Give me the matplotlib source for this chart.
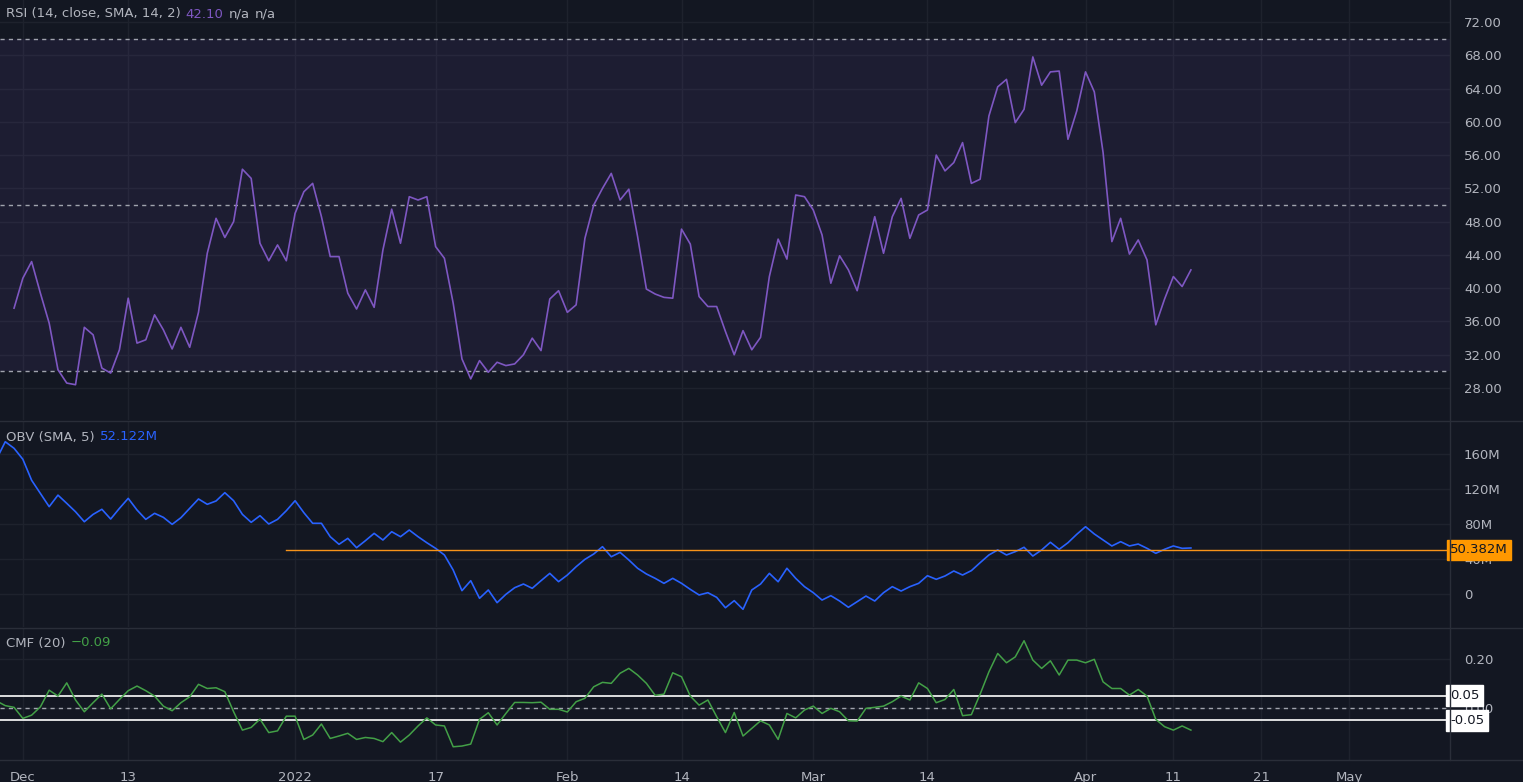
import matplotlib
matplotlib.use("Agg")
import matplotlib.pyplot as plt
import matplotlib.dates as mdates
import pandas as pd
import numpy as np

rsi = [37.6,41.2,43.2,39.4,35.8,30.2,28.6,28.4,35.3,34.4,30.4,29.8,32.6,38.8,33.4,33.8,36.8,35.0,32.7,35.3,
       32.9,37.1,44.2,48.4,46.1,48.0,54.3,53.2,45.4,43.3,45.2,43.3,49.0,51.6,52.6,48.6,43.8,43.8,39.4,37.5,
       39.8,37.7,44.6,49.5,45.4,51.0,50.6,51.0,45.0,43.6,38.2,31.5,29.1,31.3,29.9,31.1,30.7,30.9,32.0,34.0,
       32.5,38.7,39.7,37.1,38.0,46.0,50.0,
       52.0,53.8,50.6,51.9,46.2,39.9,39.3,38.9,38.8,47.1,45.3,39.0,37.8,37.8,34.8,32.0,34.9,32.6,34.1,41.4,
       45.9,43.5,51.2,51.0,49.4,46.4,40.6,43.9,42.2,39.7,44.2,48.6,44.2,48.6,50.8,46.0,48.8,49.4,56.0,54.1,
       55.1,57.5,52.6,53.1,60.7,64.2,65.1,59.9,61.5,67.8,64.4,66.0,66.1,57.9,61.3,66.0,63.6,56.3,45.6,48.4,
       44.1,45.8,43.4,35.6,38.7,41.4,40.2,42.2]

obv = [154,174,166.5,154,130,115,99.8,113,103.6,94,82.6,91,96.8,85.7,97.9,109.3,96,85.3,92.2,87.6,
       79.6,87.2,97.9,108.6,102.5,106.3,115.8,106.6,91,81.9,89.5,80,85.3,95.2,106.6,92.9,80.8,80.8,65.5,56.8,
       63.6,52.9,60.9,69.3,61.7,71.2,65.5,73.1,65.5,58.6,52.2,44.6,27.4,3.8,15.2,-4.9,4.6,-9.9,-0.4,7.2,
       11.4,6.5,15.2,23.6,14.1,21.7,31.2,39.6,45.7,54.1,42.6,47.6,38.9,29.4,22.9,17.9,12.2,17.9,12.2,5.3,
       -1.1,1.5,-3.8,-15.7,-7.6,-17.5,
       4.6,11.4,23.6,14,29.4,17.9,8.4,1.5,-6.9,-1.9,-8,-15.2,-8.8,-2.3,-8,1.5,8.4,3.4,8.4,12.2,
       20.9,16.8,20.6,26.3,21.7,26.7,35.8,44.6,50.3,44.6,48.4,53.4,43.4,50.3,59.1,51.1,58.6,68.2,76.9,68.6,
       61.7,54.9,59.8,54.9,57.1,52.2,46.5,51.1,54.9,52.2,52.6]

cmf = [-0.069,0.003,0.029,0.01,0.003,-0.042,-0.029,0.005,0.073,0.049,0.103,0.033,-0.015,0.022,0.057,-0.003,0.035,0.071,0.09,0.071,
       0.049,0.008,-0.011,0.022,0.046,0.097,0.08,0.083,0.067,-0.015,-0.09,-0.079,-0.045,-0.1,-0.093,-0.033,-0.033,-0.128,-0.11,-0.065,
       -0.124,-0.114,-0.103,-0.128,-0.12,-0.124,-0.137,-0.1,-0.139,-0.11,-0.073,-0.04,-0.069,-0.073,-0.158,-0.155,-0.147,-0.046,-0.019,-0.069,
       -0.022,0.023,0.023,0.022,0.024,-0.005,-0.005,-0.016,0.026,0.04,0.087,0.105,0.101,0.142,0.162,0.135,0.101,0.052,0.057,0.144,
       0.128,0.049,0.012,0.033,-0.035,-0.1,-0.018,-0.114,
       -0.083,-0.052,-0.069,-0.128,-0.022,-0.04,-0.008,0.008,-0.022,-0.001,-0.015,-0.052,-0.053,-0.001,0.003,0.008,0.026,0.049,0.033,0.103,
       0.08,0.022,0.035,0.076,-0.031,-0.027,0.057,0.148,0.223,0.185,0.209,0.275,0.196,0.162,0.193,0.135,0.196,0.196,0.185,0.199,
       0.107,0.08,0.08,0.053,0.076,0.049,-0.046,-0.076,-0.09,-0.073,-0.09]

obv_level = 50.382
obv_level_start = "2021-12-31"
end_date = "2022-04-13"
xtick_dates = ["2021-12-01","2021-12-13","2022-01-01","2022-01-17","2022-02-01","2022-02-14",
               "2022-03-01","2022-03-14","2022-04-01","2022-04-11","2022-04-21","2022-05-01"]
xtick_labels = ["Dec","13","2022","17","Feb","14","Mar","14","Apr","11","21","May"]
rsi_ticks = [28,32,36,40,44,48,52,56,60,64,68,72]
obv_ticks = [0,40,80,120,160]
cmf_ticks = [0.0,0.2]

BG = "#131722"; GRID = "#1e222d"; TXT = "#b2b5be"; SEP = "#2a2e39"
W, H = 1523, 782
fig = plt.figure(figsize=(W/100, H/100), dpi=100, facecolor=BG)
plotw = 1450/W
def mk(top, bot):
    return fig.add_axes([0, 1-bot/H, plotw, (bot-top)/H], facecolor=BG)
ax1 = mk(0, 420); ax2 = mk(421, 627); ax3 = mk(628, 760)

d_r = mdates.date2num(pd.date_range(end=end_date, periods=len(rsi)))
d_o = mdates.date2num(pd.date_range(end=end_date, periods=len(obv)))
d_c = mdates.date2num(pd.date_range(end=end_date, periods=len(cmf)))
base = mdates.date2num(pd.Timestamp("2021-11-28"))
xl = (base+0.4, base+165.5)

for ax in (ax1, ax2, ax3):
    ax.set_xlim(*xl)
    ax.set_xticks(mdates.date2num(pd.to_datetime(xtick_dates)))
    ax.grid(True, color=GRID, lw=1)
    ax.set_axisbelow(True)
    ax.yaxis.tick_right()
    ax.tick_params(colors=TXT, length=0, labelsize=9.5)
    for s in ax.spines.values(): s.set_visible(False)
    ax.tick_params(axis='x', labelbottom=False)
    ax.tick_params(axis='y', pad=10)

# RSI
ax1.set_ylim(24.16, 74.64)
ax1.set_yticks(rsi_ticks)
ax1.set_yticklabels([f"{v:.2f}" for v in rsi_ticks])
ax1.axhspan(30, 70, color="#7e57c2", alpha=0.1, lw=0)
for lv in (70, 50, 30):
    ax1.axhline(lv, color="#a0a3ad", ls=(0, (3, 3)), lw=1)
ax1.plot(d_r, rsi, color="#7e57c2", lw=1.2)

# OBV
ax2.set_ylim(-37.7, 197.7)
ax2.set_yticks(obv_ticks)
ax2.set_yticklabels([f"{v}M" if v else "0" for v in obv_ticks])
ax2.plot(d_o, obv, color="#2962ff", lw=1.2)
x0 = mdates.date2num(pd.Timestamp(obv_level_start))
ax2.plot([x0, xl[1]], [obv_level, obv_level], color="#f7931a", lw=1)
ax2.text(1.0, obv_level, f"{obv_level:.3f}M", transform=ax2.get_yaxis_transform(), ha="left", va="center",
         color="#131722", fontsize=9.5, clip_on=False,
         bbox=dict(boxstyle="square,pad=0.25", fc="#ff9800", ec="#ff9800"))

# CMF
ax3.set_ylim(-0.212, 0.327)
ax3.set_yticks(cmf_ticks)
ax3.set_yticklabels([f"{v:.2f}" for v in cmf_ticks])
ax3.axhline(0, color="#a0a3ad", ls=(0, (3, 3)), lw=1)
for lv in (0.05, -0.05):
    ax3.axhline(lv, color="white", lw=1.2)
    ax3.text(1.0, lv, f"{lv:.2f}", transform=ax3.get_yaxis_transform(), ha="left", va="center",
             color="#131722", fontsize=9.5, clip_on=False,
             bbox=dict(boxstyle="square,pad=0.3", fc="white", ec="white"))
ax3.plot(d_c, cmf, color="#43a047", lw=1.1)
ax3.tick_params(axis='x', labelbottom=True, pad=8)
ax3.set_xticklabels(xtick_labels)

# separators
for yy in (420.5, 627.5, 760):
    fig.add_artist(plt.Line2D([0, 1], [1-yy/H]*2, color=SEP, lw=1, transform=fig.transFigure))
fig.add_artist(plt.Line2D([plotw]*2, [1-760/H, 1], color=SEP, lw=1, transform=fig.transFigure))

# legends
def label(parts, y):
    x = 6
    for txt, col in parts:
        t = fig.text(x/W, 1-y/H, txt, color=col, fontsize=9.5, va="center")
        fig.canvas.draw()
        x += t.get_window_extent().width + 5
label([("RSI (14, close, SMA, 14, 2)", TXT), ("42.10", "#7e57c2"), ("n/a", TXT), ("n/a", TXT)], 14)
label([("OBV (SMA, 5)", TXT), ("52.122M", "#2962ff")], 437)
label([("CMF (20)", TXT), ("\u22120.09", "#43a047")], 643)

fig.savefig("out.png", dpi=100, facecolor=BG)
